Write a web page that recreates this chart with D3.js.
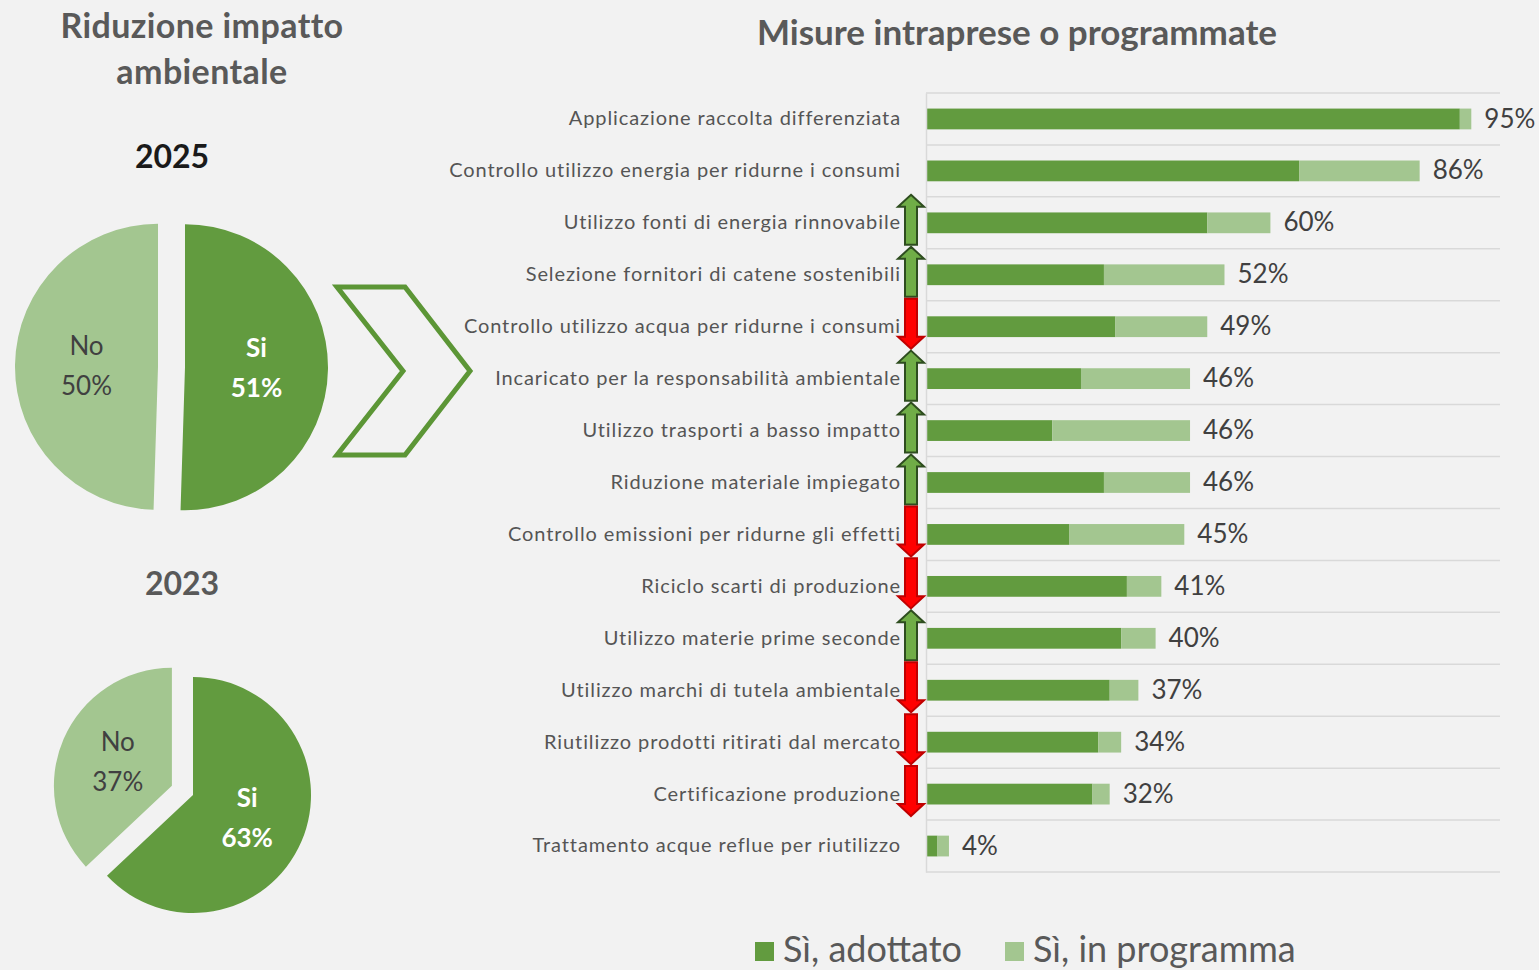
<!DOCTYPE html>
<html>
<head>
<meta charset="utf-8">
<script src="https://cdn.jsdelivr.net/npm/d3@7/dist/d3.min.js"></script>
<style>
    html, body { margin: 0; padding: 0; background: #f2f2f2; }
    svg { display: block; font-family: Lato, "Open Sans", sans-serif; }
</style>
</head>
<body>
<script>
(function () {
    "use strict";

    // bar chart data
    var categories = [
        "Applicazione raccolta differenziata",
        "Controllo utilizzo energia per ridurne i consumi",
        "Utilizzo fonti di energia rinnovabile",
        "Selezione fornitori di catene sostenibili",
        "Controllo utilizzo acqua per ridurne i consumi",
        "Incaricato per la responsabilità ambientale",
        "Utilizzo trasporti a basso impatto",
        "Riduzione materiale impiegato",
        "Controllo emissioni per ridurne gli effetti",
        "Riciclo scarti di produzione",
        "Utilizzo materie prime seconde",
        "Utilizzo marchi di tutela ambientale",
        "Riutilizzo prodotti ritirati dal mercato",
        "Certificazione produzione",
        "Trattamento acque reflue per riutilizzo"
    ];
    var adottato = [93, 65, 49, 31, 33, 27, 22, 31, 25, 35, 34, 32, 30, 29, 2];
    var inProgramma = [2, 21, 11, 21, 16, 19, 24, 15, 20, 6, 6, 5, 4, 3, 2];
    var totali = [95, 86, 60, 52, 49, 46, 46, 46, 45, 41, 40, 37, 34, 32, 4];
    // change vs 2023: "up", "down" or "" (no arrow)
    var trend = ["", "", "up", "up", "down", "up", "up", "up", "down", "down", "up", "down", "down", "down", ""];
    var seriesNames = ["Sì, adottato", "Sì, in programma"];

    // pie data
    var pieLabels = ["Si", "No"];
    var pie2025 = [51, 50];
    var pie2023 = [63, 37];

    var DARK = "#629b3f";
    var LIGHT = "#a3c690";
    var TEXT = "#595959";

    var W = 1539, H = 970;
    var svg = d3.select("body").append("svg")
        .attr("width", W)
        .attr("height", H);

    svg.append("rect")
        .attr("width", W)
        .attr("height", H)
        .attr("fill", "#f2f2f2");

    /*
     * LEFT: titles + pies
     */
    var title = svg.append("text")
        .attr("text-anchor", "middle")
        .attr("font-weight", "bold")
        .attr("font-size", 34)
        .attr("letter-spacing", "0.4px")
        .attr("fill", TEXT);
    title.append("tspan").attr("x", 202).attr("y", 38).text("Riduzione impatto");
    title.append("tspan").attr("x", 202).attr("y", 84).text("ambientale");

    svg.append("text")
        .attr("x", 172).attr("y", 168)
        .attr("text-anchor", "middle")
        .attr("font-weight", "bold")
        .attr("font-size", 32)
        .attr("fill", "#1a1a1a")
        .text("2025");

    svg.append("text")
        .attr("x", 182).attr("y", 595)
        .attr("text-anchor", "middle")
        .attr("font-weight", "bold")
        .attr("font-size", 32)
        .attr("fill", TEXT)
        .text("2023");

    var pieLayout = d3.pie().sort(null);

    function drawPie(values, cx, cy, r, explode) {
        var arc = d3.arc().innerRadius(0).outerRadius(r);
        var g = svg.append("g")
            .attr("transform", "translate(" + cx + "," + cy + ")");
        var slices = g.selectAll("g.slice")
            .data(pieLayout(values))
            .enter().append("g")
            .attr("class", "slice")
            .attr("transform", function (d, i) {
                var mid = (d.startAngle + d.endAngle) / 2;
                var off = explode[i];
                return "translate(" + (Math.sin(mid) * off) + "," + (-Math.cos(mid) * off) + ")";
            });
        slices.append("path")
            .attr("d", arc)
            .attr("fill", function (d, i) { return i === 0 ? DARK : LIGHT; });
        var lbl = slices.append("text")
            .attr("text-anchor", "middle")
            .attr("font-size", 26)
            .attr("font-weight", function (d, i) { return i === 0 ? "bold" : "normal"; })
            .attr("fill", function (d, i) { return i === 0 ? "#ffffff" : "#404040"; })
            .attr("transform", function (d) {
                var c = arc.centroid(d);
                return "translate(" + c[0] + "," + c[1] + ")";
            });
        lbl.append("tspan").attr("x", 0).attr("y", -11)
            .text(function (d, i) { return pieLabels[i]; });
        lbl.append("tspan").attr("x", 0).attr("y", 29)
            .text(function (d) { return d.value + "%"; });
    }

    drawPie(pie2025, 171, 367, 143, [14, 13]);
    drawPie(pie2023, 193, 795, 118, [0, 23]);

    // chevron between the pies and the bars
    svg.append("path")
        .attr("d", "M337,287 L405,287 L470,371 L405,455 L337,455 L403,371 Z")
        .attr("fill", "none")
        .attr("stroke", "#5c9636")
        .attr("stroke-width", 5)
        .attr("stroke-linejoin", "miter");

    /*
     * RIGHT: stacked bars
     */
    svg.append("text")
        .attr("x", 1017).attr("y", 45)
        .attr("text-anchor", "middle")
        .attr("font-weight", "bold")
        .attr("font-size", 35)
        .attr("fill", TEXT)
        .text("Misure intraprese o programmate");

    var rows = categories.map(function (c, i) {
        return {cat: c, adottato: adottato[i], inProgramma: inProgramma[i], totale: totali[i], trend: trend[i]};
    });

    var x = d3.scaleLinear().domain([0, 100]).range([926, 1500]);
    var y = d3.scaleBand().domain(categories).range([93, 872])
        .paddingInner(0.6).paddingOuter(0.3);

    // horizontal gridlines between categories
    var step = y.step();
    svg.append("g").selectAll("line")
        .data(d3.range(categories.length + 1))
        .enter().append("line")
        .attr("x1", x(0)).attr("x2", x(100))
        .attr("y1", function (i) { return 93 + i * step; })
        .attr("y2", function (i) { return 93 + i * step; })
        .attr("stroke", "#d9d9d9")
        .attr("stroke-width", 1.5);

    var stack = d3.stack().keys(["adottato", "inProgramma"]);
    var layers = stack(rows);

    svg.append("g").selectAll("g")
        .data(layers)
        .enter().append("g")
        .attr("fill", function (d, i) { return i === 0 ? DARK : LIGHT; })
        .selectAll("rect")
        .data(function (d) { return d; })
        .enter().append("rect")
        .attr("x", function (d) { return x(d[0]); })
        .attr("width", function (d) { return x(d[1]) - x(d[0]); })
        .attr("y", function (d) { return y(d.data.cat); })
        .attr("height", y.bandwidth());

    // value labels
    svg.append("g").selectAll("text")
        .data(rows)
        .enter().append("text")
        .attr("x", function (d) { return x(d.adottato + d.inProgramma) + 13; })
        .attr("y", function (d) { return y(d.cat) + y.bandwidth() / 2 + 2; })
        .attr("dominant-baseline", "middle")
        .attr("font-size", 26)
        .attr("fill", "#404040")
        .text(function (d) { return d.totale + "%"; });

    // category axis
    var axis = svg.append("g")
        .attr("transform", "translate(" + x(0) + ",0)")
        .call(d3.axisLeft(y).tickSize(0).tickPadding(25).tickSizeOuter(0));
    axis.select(".domain").attr("stroke", "#d9d9d9").attr("stroke-width", 1.5);
    axis.selectAll("text")
        .attr("font-family", "Lato, sans-serif")
        .attr("font-size", 20)
        .attr("letter-spacing", "0.9px")
        .attr("fill", "#555555");

    // trend arrows
    function arrowPath(dir) {
        // drawn pointing up, 50 tall, centred on 0,0
        var p = "M0,-25 L13,-13 L6,-13 L6,25 L-6,25 L-6,-13 L-13,-13 Z";
        return dir === "down" ? p.replace(/,(-?\d+)/g, function (m, v) { return "," + (-v); }) : p;
    }

    svg.append("g").selectAll("path")
        .data(rows.filter(function (d) { return d.trend !== ""; }))
        .enter().append("path")
        .attr("d", function (d) { return arrowPath(d.trend); })
        .attr("transform", function (d) {
            return "translate(911," + (y(d.cat) + y.bandwidth() / 2 - 3) + ")";
        })
        .attr("fill", function (d) { return d.trend === "up" ? "#70ad47" : "#ff0000"; })
        .attr("stroke", function (d) { return d.trend === "up" ? "#2e4d1f" : "#c00000"; })
        .attr("stroke-width", 2);

    // legend
    var legend = svg.append("g");
    var legendX = [755, 1005];
    seriesNames.forEach(function (name, i) {
        legend.append("rect")
            .attr("x", legendX[i]).attr("y", 942)
            .attr("width", 19).attr("height", 19)
            .attr("fill", i === 0 ? DARK : LIGHT);
        legend.append("text")
            .attr("x", legendX[i] + 28).attr("y", 962)
            .attr("font-size", 36)
            .attr("fill", TEXT)
            .text(name);
    });
})();
</script>
</body>
</html>
